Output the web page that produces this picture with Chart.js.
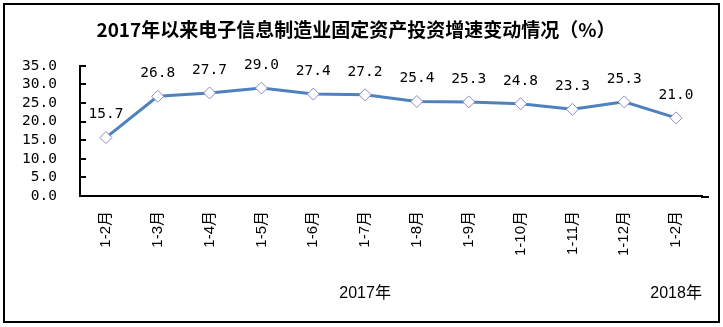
<!DOCTYPE html>
<html>
<head>
<meta charset="utf-8">
<script src="https://cdn.jsdelivr.net/npm/chart.js@4.4.1/dist/chart.umd.min.js"></script>
<style>
  body { margin: 0; background: #fff; }
  #wrap { width: 723px; height: 327px; position: relative; }
</style>
</head>
<body>
<div id="wrap"><canvas id="c" width="723" height="327"></canvas></div>
<script>
// data
const months = ['1-2月', '1-3月', '1-4月', '1-5月', '1-6月', '1-7月', '1-8月', '1-9月', '1-10月', '1-11月', '1-12月', '1-2月'];
const growth = [15.7, 26.8, 27.7, 29.0, 27.4, 27.2, 25.4, 25.3, 24.8, 23.3, 25.3, 21.0];
const years = ['2017年', '2018年'];
const yearSpan = [[0, 10], [11, 11]];

const title_text = '2017年以来电子信息制造业固定资产投资增速变动情况（%）';
const cjk = '"Liberation Sans", "Noto Sans CJK SC", sans-serif';
const mono = '"DejaVu Sans Mono", monospace';

// outer frame, inner y ticks, value labels and year labels
const extras = {
    id: 'extras',
    afterDraw(chart) {
        const ctx = chart.ctx;
        const y = chart.scales.y;
        const x = chart.scales.x;
        const area = chart.chartArea;

        ctx.save();
        ctx.strokeStyle = '#000';
        ctx.lineWidth = 2;
        ctx.strokeRect(4, 4, 715, 318);

        // small ticks pointing into the plot
        y.ticks.forEach(function(t) {
            let py = Math.round(y.getPixelForValue(t.value));
            ctx.beginPath();
            ctx.moveTo(area.left, py);
            ctx.lineTo(area.left + 6, py);
            ctx.stroke();
        });

        // the x axis line runs a little past the last category
        ctx.beginPath();
        ctx.moveTo(area.right - 1, area.bottom + 1);
        ctx.lineTo(area.right + 7, area.bottom + 1);
        ctx.stroke();

        // values over the points
        ctx.fillStyle = '#000';
        ctx.font = '14.5px ' + mono;
        ctx.textAlign = 'center';
        ctx.textBaseline = 'middle';
        let meta = chart.getDatasetMeta(0);
        meta.data.forEach(function(pt, i) {
            ctx.fillText(growth[i].toFixed(1), pt.x, pt.y - 23);
        });

        // year labels under the month labels
        ctx.font = '16px ' + cjk;
        years.forEach(function(label, i) {
            let cx = (x.getPixelForValue(yearSpan[i][0]) + x.getPixelForValue(yearSpan[i][1])) / 2;
            ctx.fillText(label, cx, 294);
        });
        ctx.restore();
    }
};

new Chart(document.getElementById('c'), {
    type: 'line',
    data: {
        labels: months,
        datasets: [{
            data: growth,
            borderColor: '#4f81bd',
            borderWidth: 3,
            pointStyle: 'rectRot',
            pointRadius: 6,
            pointBackgroundColor: '#fff',
            pointBorderColor: '#8c8cc6',
            pointBorderWidth: 1,
            tension: 0
        }]
    },
    options: {
        responsive: false,
        animation: false,
        layout: { padding: { left: 10, right: 21, top: 0, bottom: 70 } },
        plugins: {
            legend: { display: false },
            tooltip: { enabled: false },
            title: {
                display: true,
                text: title_text,
                color: '#000',
                font: { family: '"Noto Sans CJK SC", sans-serif', size: 19, weight: 'bold' },
                padding: { top: 18, bottom: 25 }
            }
        },
        scales: {
            x: {
                offset: true,
                grid: { display: false, drawTicks: false },
                border: { display: true, color: '#000', width: 2 },
                ticks: {
                    color: '#000',
                    autoSkip: false,
                    minRotation: 90,
                    maxRotation: 90,
                    padding: 15,
                    font: { family: cjk, size: 15 }
                },
                afterFit: function(s) { s.height = 61; }
            },
            y: {
                min: 0,
                max: 35,
                afterFit: function(s) { s.width = 70; },
                grid: { display: false, drawTicks: false },
                border: { display: true, color: '#000', width: 2 },
                ticks: {
                    stepSize: 5,
                    autoSkip: false,
                    color: '#000',
                    padding: 23,
                    font: { family: mono, size: 14.5 },
                    callback: function(v) { return Number(v).toFixed(1); }
                }
            }
        }
    },
    plugins: [extras]
});
</script>
</body>
</html>
